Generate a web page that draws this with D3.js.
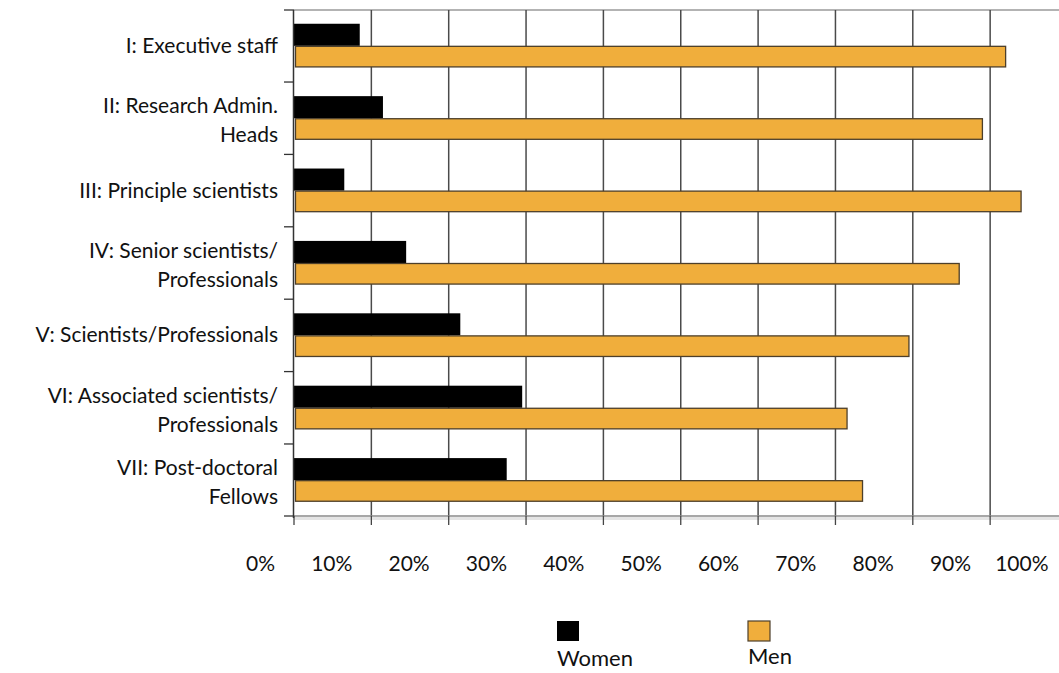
<!DOCTYPE html>
<html>
<head>
<meta charset="utf-8">
<script src="https://cdn.jsdelivr.net/npm/d3@7"></script>
<style>
  html, body { margin: 0; padding: 0; background: #fff; }
  svg text { font-family: Lato, "Open Sans", sans-serif; fill: #111; }
</style>
</head>
<body>
<svg id="chart" width="1059" height="673"></svg>
<script>
// Staff categories (each entry is the list of lines in its label)
const categoryLines = [
  ["I: Executive staff"],
  ["II: Research Admin.", "Heads"],
  ["III: Principle scientists"],
  ["IV: Senior scientists/", "Professionals"],
  ["V: Scientists/Professionals"],
  ["VI: Associated scientists/", "Professionals"],
  ["VII: Post-doctoral", "Fellows"]
];
const categories = categoryLines.map(l => l.join(" "));

// Share of each group (percent)
const women = [8.5, 11.5, 6.5, 14.5, 21.5, 29.5, 27.5];
const men   = [92, 89, 94, 86, 79.5, 71.5, 73.5];

const seriesNames = ["Women", "Men"];
const seriesColors = ["#000000", "#F0AE3C"];
const tickValues = [0, 10, 20, 30, 40, 50, 60, 70, 80, 90, 100];

const svg = d3.select("#chart");
const W = 1059;

const plot = { left: 294, top: 10, bottom: 516 };

const x = d3.scaleLinear().domain([0, 100]).range([plot.left, plot.left + 773.5]);
const y0 = d3.scaleBand().domain(categories).range([plot.top, plot.bottom])
  .paddingInner(0.39).paddingOuter(0.19);
const y1 = d3.scaleBand().domain(seriesNames).range([0, y0.bandwidth()]);

const rows = categories.map((c, i) => ({ cat: c, lines: categoryLines[i], values: [women[i], men[i]] }));

// top border of the plot area
svg.append("line")
  .attr("x1", plot.left).attr("x2", W)
  .attr("y1", plot.top).attr("y2", plot.top)
  .attr("stroke", "#9a9a9a").attr("stroke-width", 1.5);

// vertical gridlines
svg.append("g")
  .selectAll("line")
  .data(tickValues.slice(1))
  .join("line")
  .attr("x1", d => x(d)).attr("x2", d => x(d))
  .attr("y1", plot.top).attr("y2", plot.bottom)
  .attr("stroke", "#4a4a4a").attr("stroke-width", 1.5);

// bars
const group = svg.append("g")
  .selectAll("g")
  .data(rows)
  .join("g")
  .attr("transform", d => `translate(0,${y0(d.cat)})`);

group.selectAll("rect")
  .data(d => d.values.map((v, k) => ({ key: seriesNames[k], value: v, k })))
  .join("rect")
  .attr("x", d => d.k === 0 ? x(0) - 1 : x(0) + 1.5)
  .attr("y", d => y1(d.key) + (d.k === 1 ? 0.5 : 0))
  .attr("width", d => x(d.value) - x(0) + (d.k === 0 ? 1 : -1.5))
  .attr("height", d => y1.bandwidth() - (d.k === 1 ? 1.5 : 0))
  .attr("fill", d => seriesColors[d.k])
  .attr("stroke", d => d.k === 1 ? "#4d3f2a" : "none")
  .attr("stroke-width", 1.3);

// bottom axis line with soft shadow
svg.append("rect")
  .attr("x", plot.left).attr("y", plot.bottom + 1)
  .attr("width", W - plot.left).attr("height", 3)
  .attr("fill", "#e4e4e4");
svg.append("line")
  .attr("x1", plot.left).attr("x2", W)
  .attr("y1", plot.bottom).attr("y2", plot.bottom)
  .attr("stroke", "#8a8a8a").attr("stroke-width", 1.5);

// bottom ticks and labels
const xAxis = svg.append("g");
xAxis.selectAll("line")
  .data(tickValues)
  .join("line")
  .attr("x1", d => x(d)).attr("x2", d => x(d))
  .attr("y1", plot.bottom).attr("y2", plot.bottom + 9)
  .attr("stroke", "#444").attr("stroke-width", 1.3);
xAxis.selectAll("text")
  .data(tickValues)
  .join("text")
  .attr("x", d => x(d) - 19)
  .attr("y", 571)
  .attr("text-anchor", "end")
  .attr("font-size", 21)
  .text(d => d + "%");

// left axis
svg.append("line")
  .attr("x1", plot.left - 0.5).attr("x2", plot.left - 0.5)
  .attr("y1", plot.top).attr("y2", plot.bottom + 2)
  .attr("stroke", "#333").attr("stroke-width", 1.5);
const bounds = categories.map(c => y0(c) - y0.step() * y0.paddingInner() / 2);
bounds.push(plot.bottom);
bounds[0] = plot.top;
svg.append("g").selectAll("line")
  .data(bounds)
  .join("line")
  .attr("x1", plot.left - 10).attr("x2", plot.left)
  .attr("y1", d => d).attr("y2", d => d)
  .attr("stroke", "#333").attr("stroke-width", 1.3);

// category labels
const labels = svg.append("g").selectAll("text")
  .data(rows)
  .join("text")
  .attr("text-anchor", "end")
  .attr("font-size", 21)
  .attr("transform", d => {
    const c = y0(d.cat) + y0.bandwidth() / 2;
    const base = d.lines.length === 1 ? c + 7 : c - 5;
    return `translate(${plot.left - 16},${base})`;
  });
labels.selectAll("tspan")
  .data(d => d.lines)
  .join("tspan")
  .attr("x", 0)
  .attr("dy", (d, i) => i === 0 ? 0 : 29)
  .text(d => d);

// legend
const legendX = [557, 748];
const legend = svg.append("g").selectAll("g")
  .data(seriesNames)
  .join("g")
  .attr("transform", (d, i) => `translate(${legendX[i]},621)`);
legend.append("rect")
  .attr("width", 22).attr("height", 20)
  .attr("fill", (d, i) => seriesColors[i])
  .attr("stroke", (d, i) => i === 1 ? "#4d3f2a" : "none")
  .attr("stroke-width", 1.2);
legend.append("text")
  .attr("x", 0)
  .attr("y", (d, i) => i === 0 ? 45 : 43)
  .attr("font-size", 22)
  .text(d => d);
</script>
</body>
</html>
